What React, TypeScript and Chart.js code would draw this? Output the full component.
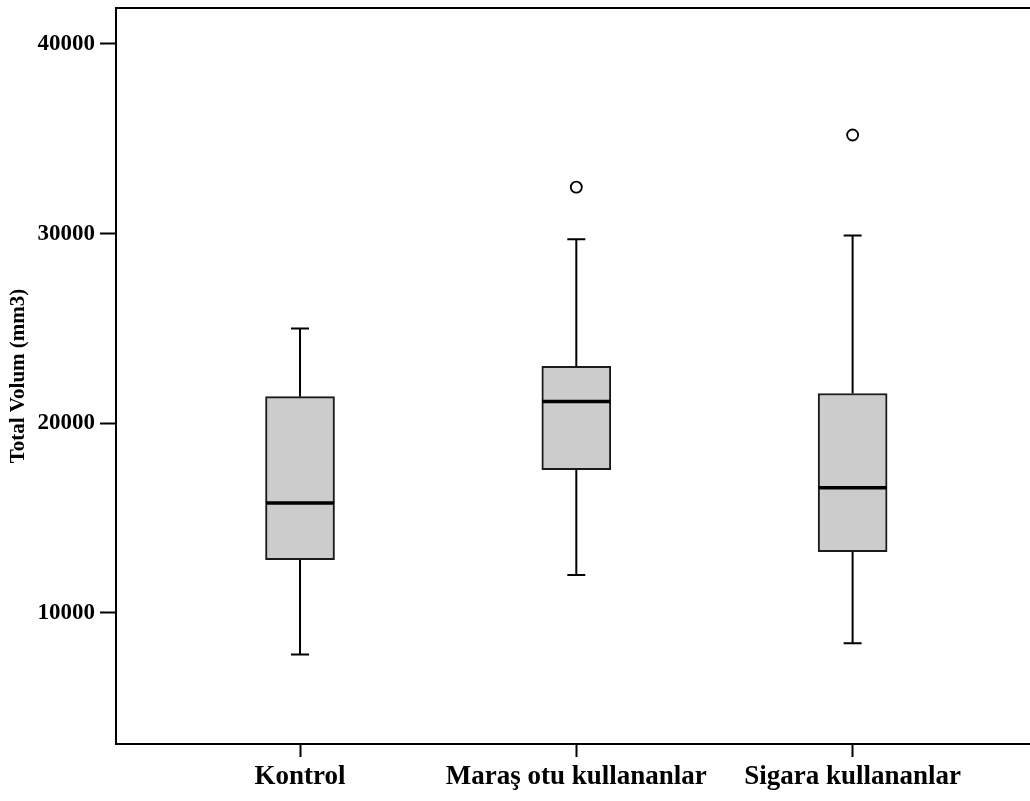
import React, { useEffect, useRef } from "react";
import { Chart, registerables } from "chart.js";

Chart.register(...registerables);

const categories = ["Kontrol", "Maraş otu kullananlar", "Sigara kullananlar"];
const categoryPositions = [1, 2, 3];
const whiskerLow = [7800, 12000, 8400];
const q1 = [12800, 17550, 13230];
const median = [15800, 21150, 16600];
const q3 = [21400, 23000, 21570];
const whiskerHigh = [25000, 29700, 29900];
const outlierX = [2, 3];
const outlierY = [32450, 35200];
const yTicks = [10000, 20000, 30000, 40000];

const FONT = '"Liberation Serif", "Times New Roman", serif';

const boxPlugin = {
  id: "boxWhiskers",
  beforeDatasetsDraw(chart: any) {
    const { ctx, scales } = chart;
    const xs = scales.x;
    const ys = scales.y;
    ctx.save();
    ctx.strokeStyle = "#000";
    ctx.lineWidth = 2;
    const capHalf = 9;
    categoryPositions.forEach((p, i) => {
      const x = xs.getPixelForValue(p);
      const yLo = ys.getPixelForValue(whiskerLow[i]);
      const yQ1 = ys.getPixelForValue(q1[i]);
      const yQ3 = ys.getPixelForValue(q3[i]);
      const yHi = ys.getPixelForValue(whiskerHigh[i]);
      ctx.beginPath();
      ctx.moveTo(x, yLo);
      ctx.lineTo(x, yQ1);
      ctx.moveTo(x, yQ3);
      ctx.lineTo(x, yHi);
      ctx.moveTo(x - capHalf, yLo);
      ctx.lineTo(x + capHalf, yLo);
      ctx.moveTo(x - capHalf, yHi);
      ctx.lineTo(x + capHalf, yHi);
      ctx.stroke();
    });
    ctx.restore();
  },
  afterDatasetsDraw(chart: any) {
    const { ctx, scales, chartArea } = chart;
    const xs = scales.x;
    const ys = scales.y;
    ctx.save();
    ctx.strokeStyle = "#000";
    ctx.lineWidth = 3.5;
    const half = 34;
    categoryPositions.forEach((p, i) => {
      const x = xs.getPixelForValue(p);
      const y = ys.getPixelForValue(median[i]);
      ctx.beginPath();
      ctx.moveTo(x - half, y);
      ctx.lineTo(x + half, y);
      ctx.stroke();
    });
    // top frame line
    ctx.lineWidth = 2;
    ctx.beginPath();
    ctx.moveTo(chartArea.left, chartArea.top);
    ctx.lineTo(chartArea.right, chartArea.top);
    ctx.stroke();
    ctx.restore();
  },
};

export default function App() {
  const ref = useRef<HTMLCanvasElement | null>(null);
  useEffect(() => {
    if (!ref.current) return;
    const chart = new Chart(ref.current, {
      type: "bar",
      data: {
        datasets: [
          {
            type: "bar",
            data: categoryPositions.map((p, i) => ({ x: p, y: [q1[i], q3[i]] })) as any,
            backgroundColor: "#cccccc",
            borderColor: "#1a1a1a",
            borderWidth: 2,
            borderSkipped: false,
            barThickness: 69,
          } as any,
          {
            type: "scatter",
            data: outlierX.map((x, i) => ({ x, y: outlierY[i] })),
            pointRadius: 5.5,
            pointBorderWidth: 1.8,
            pointBackgroundColor: "#ffffff",
            pointBorderColor: "#000000",
          } as any,
        ],
      },
      options: {
        animation: false,
        responsive: false,
        maintainAspectRatio: false,
        layout: { autoPadding: false, padding: { top: 8, right: 0, left: 0, bottom: 0 } },
        plugins: { legend: { display: false }, tooltip: { enabled: false } },
        scales: {
          x: {
            type: "linear",
            offset: false,
            min: 0.334,
            max: 3.642,
            afterBuildTicks(scale: any) {
              scale.ticks = categoryPositions.map((v) => ({ value: v }));
            },
            afterFit(scale: any) {
              scale.height = 57;
              scale.paddingLeft = 0;
              scale.paddingRight = 0;
            },
            grid: {
              offset: false,
              drawOnChartArea: false,
              drawTicks: true,
              tickLength: 13,
              tickColor: "#000",
              tickWidth: 2,
            },
            border: { display: true, color: "#000", width: 2 },
            ticks: {
              autoSkip: false,
              maxRotation: 0,
              padding: 4,
              color: "#000",
              font: { family: FONT, size: 27, weight: "bold" },
              callback(value: any) {
                const idx = categoryPositions.indexOf(Number(value));
                return idx >= 0 ? categories[idx] : "";
              },
            },
          },
          y: {
            type: "linear",
            min: 3086,
            max: 41897,
            afterBuildTicks(scale: any) {
              scale.ticks = yTicks.map((v) => ({ value: v }));
            },
            afterFit(scale: any) {
              scale.width = 116;
              scale.paddingTop = 0;
              scale.paddingBottom = 0;
            },
            grid: {
              drawOnChartArea: false,
              drawTicks: true,
              tickLength: 16,
              tickColor: "#000",
              tickWidth: 2,
            },
            border: { display: true, color: "#000", width: 2 },
            title: {
              display: true,
              text: "Total Volum (mm3)",
              color: "#000",
              padding: { top: 6, bottom: 0 },
              font: { family: FONT, size: 21, weight: "bold" },
            },
            ticks: {
              padding: 5,
              color: "#000",
              font: { family: FONT, size: 23, weight: "bold" },
              callback(value: any) {
                return String(value);
              },
            },
          },
        },
      },
      plugins: [boxPlugin],
    });
    return () => chart.destroy();
  }, []);
  return (
    <div style={{ position: "absolute", left: 0, top: 0, width: 1030, height: 801 }}>
      <canvas ref={ref} width={1030} height={801} style={{ width: 1030, height: 801 }} />
    </div>
  );
}
